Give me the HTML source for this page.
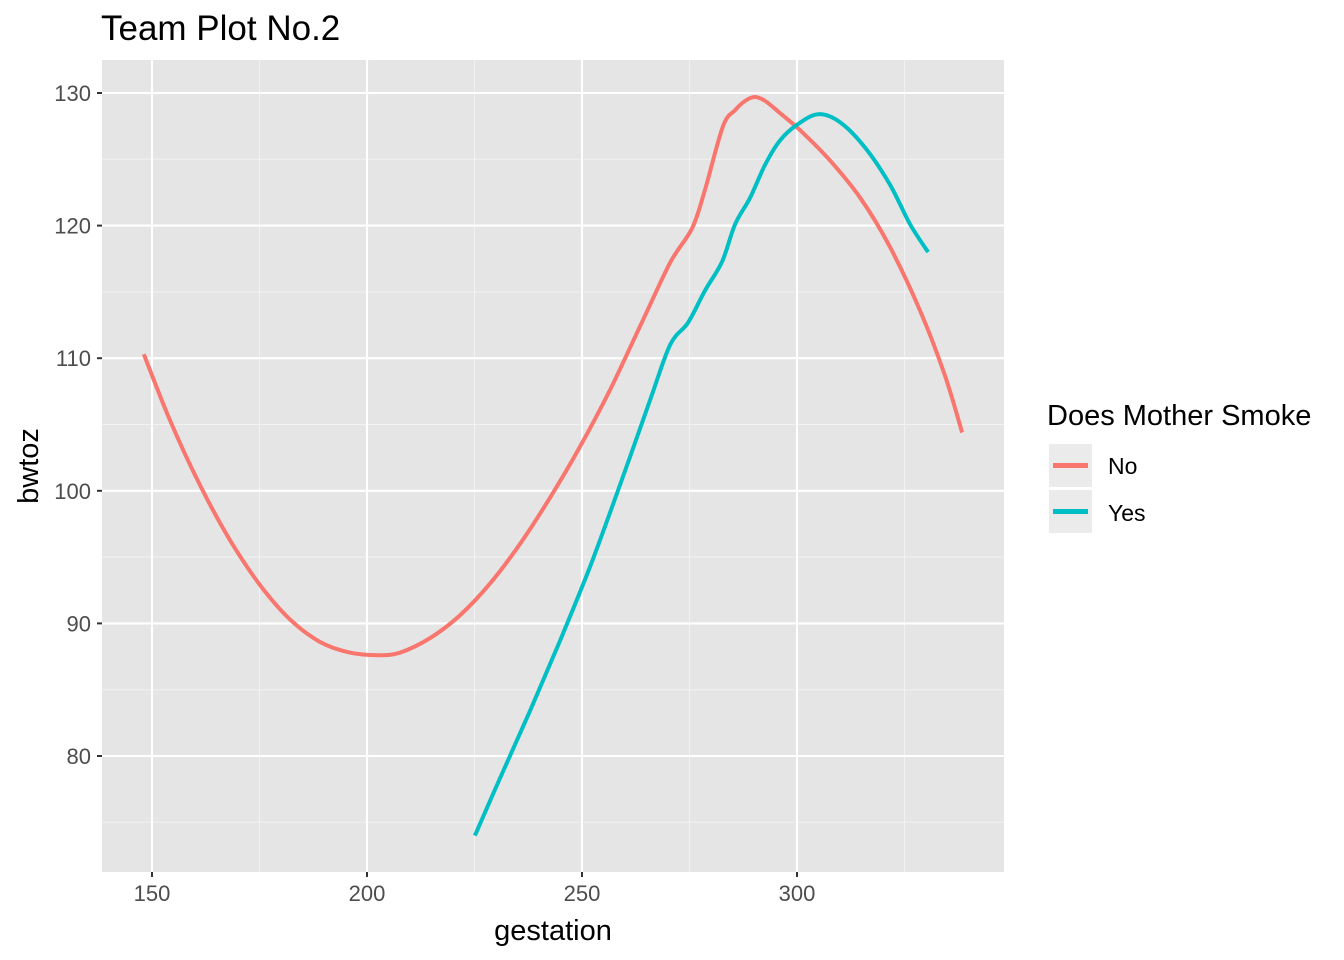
<!DOCTYPE html>
<html><head><meta charset="utf-8"><style>body{margin:0;background:#fff}svg{display:block;font-family:"Liberation Sans",Arial,sans-serif}</style></head>
<body>
<svg id="c" width="1344" height="960"></svg>
<script>
const xTicks=[150,200,250,300];
const xMinor=[175,225,275,325];
const yTicks=[80,90,100,110,120,130];
const yMinor=[75,85,95,105,115,125];
const noX=[148.1,154.2,161.2,168.1,175.1,182.1,189.1,196.0,202.6,207.7,214.7,221.6,228.6,235.6,242.6,249.5,256.5,263.5,270.5,275.6,278.6,282.8,285.6,287.9,290.2,292.6,296.0,300.7,307.7,314.7,321.6,328.6,334.4,338.4];
const noY=[110.3,105.3,100.4,96.3,92.9,90.3,88.6,87.8,87.6,87.8,88.9,90.6,93.0,96.0,99.5,103.3,107.6,112.4,117.2,119.8,122.7,127.5,128.7,129.4,129.7,129.4,128.5,127.2,124.9,122.1,118.4,113.6,108.7,104.4];
const yesX=[225.1,230.9,237.9,244.9,251.9,258.8,265.8,270.5,274.7,278.6,282.6,285.6,289.1,292.6,296.0,300.0,304.9,310.0,315.8,321.6,326.3,330.5];
const yesY=[74.0,78.3,83.4,88.7,94.3,100.4,106.8,111.0,112.7,115.1,117.3,120.1,122.1,124.6,126.4,127.6,128.4,127.8,125.9,123.1,120.1,118.0];
const L=102,R=1004,T=60,B=872;
const sx=v=>152+(v-150)*4.3;
const sy=v=>93+(130-v)*13.26;
const svg=document.getElementById('c');const NS='http://www.w3.org/2000/svg';
function mk(t,a){const e=document.createElementNS(NS,t);for(const k in a)e.setAttribute(k,a[k]);svg.appendChild(e);return e;}
function txt(s,a,n){const t=mk('text',a);t.textContent=s;return t;}
const panel=mk('rect',{x:L,y:T,width:R-L,height:B-T,fill:'#e5e5e5'});


xMinor.forEach(v=>{const l=mk('line',{x1:sx(v),x2:sx(v),y1:T,y2:B,stroke:'#f2f2f2','stroke-width':1});});
yMinor.forEach(v=>{const l=mk('line',{x1:L,x2:R,y1:sy(v),y2:sy(v),stroke:'#f2f2f2','stroke-width':1});});
xTicks.forEach(v=>{const l=mk('line',{x1:sx(v),x2:sx(v),y1:T,y2:B,stroke:'#fff','stroke-width':2.1});
 const k=mk('line',{x1:sx(v),x2:sx(v),y1:B,y2:B+5,stroke:'#333','stroke-width':2});
 txt(v,{x:sx(v),y:901,'text-anchor':'middle','font-size':22,fill:'#4d4d4d'},'x-tick-label');});
yTicks.forEach(v=>{const l=mk('line',{x1:L,x2:R,y1:sy(v),y2:sy(v),stroke:'#fff','stroke-width':2.1});
 const k=mk('line',{x1:L-5,x2:L,y1:sy(v),y2:sy(v),stroke:'#333','stroke-width':2});
 txt(v,{x:L-11,y:sy(v)+8,'text-anchor':'end','font-size':22,fill:'#4d4d4d'},'y-tick-label');});
function line(xs,ys,c,n){const P=xs.map((x,i)=>[sx(x),sy(ys[i])]);let d='M'+P[0][0].toFixed(1)+','+P[0][1].toFixed(1);
 for(let i=0;i<P.length-1;i++){const p0=P[Math.max(0,i-1)],p1=P[i],p2=P[i+1],p3=P[Math.min(P.length-1,i+2)];
  const c1=[p1[0]+(p2[0]-p0[0])/6,p1[1]+(p2[1]-p0[1])/6],c2=[p2[0]-(p3[0]-p1[0])/6,p2[1]-(p3[1]-p1[1])/6];
  d+='C'+c1.map(v=>v.toFixed(1))+' '+c2.map(v=>v.toFixed(1))+' '+p2.map(v=>v.toFixed(1));}
 const p=mk('path',{d:d,fill:'none',stroke:c,'stroke-width':4,'stroke-linejoin':'round'});}
line(noX,noY,'#f8766d','line-no');
line(yesX,yesY,'#00bfc4','line-yes');
txt('Team Plot No.2',{x:101,y:40,'font-size':35,fill:'#000'},'chart-title');
txt('gestation',{x:553,y:940,'text-anchor':'middle','font-size':29,fill:'#000'},'x-axis-title');
txt('bwtoz',{x:0,y:0,'text-anchor':'middle','font-size':29,fill:'#000',transform:'translate(38,466) rotate(-90)'},'y-axis-title');
txt('Does Mother Smoke',{x:1047,y:425,'font-size':29,fill:'#000'},'legend-title');
const k1=mk('rect',{x:1049,y:444,width:43,height:43,fill:'#ebebeb'});
const s1=mk('line',{x1:1053,x2:1088,y1:465.5,y2:465.5,stroke:'#f8766d','stroke-width':5});
const k2=mk('rect',{x:1049,y:490,width:43,height:43,fill:'#ebebeb'});
const s2=mk('line',{x1:1053,x2:1088,y1:511.5,y2:511.5,stroke:'#00bfc4','stroke-width':5});
txt('No',{x:1108,y:474,'font-size':23,fill:'#000'},'legend-label-no');
txt('Yes',{x:1108,y:521,'font-size':23,fill:'#000'},'legend-label-yes');
</script>
</body></html>
